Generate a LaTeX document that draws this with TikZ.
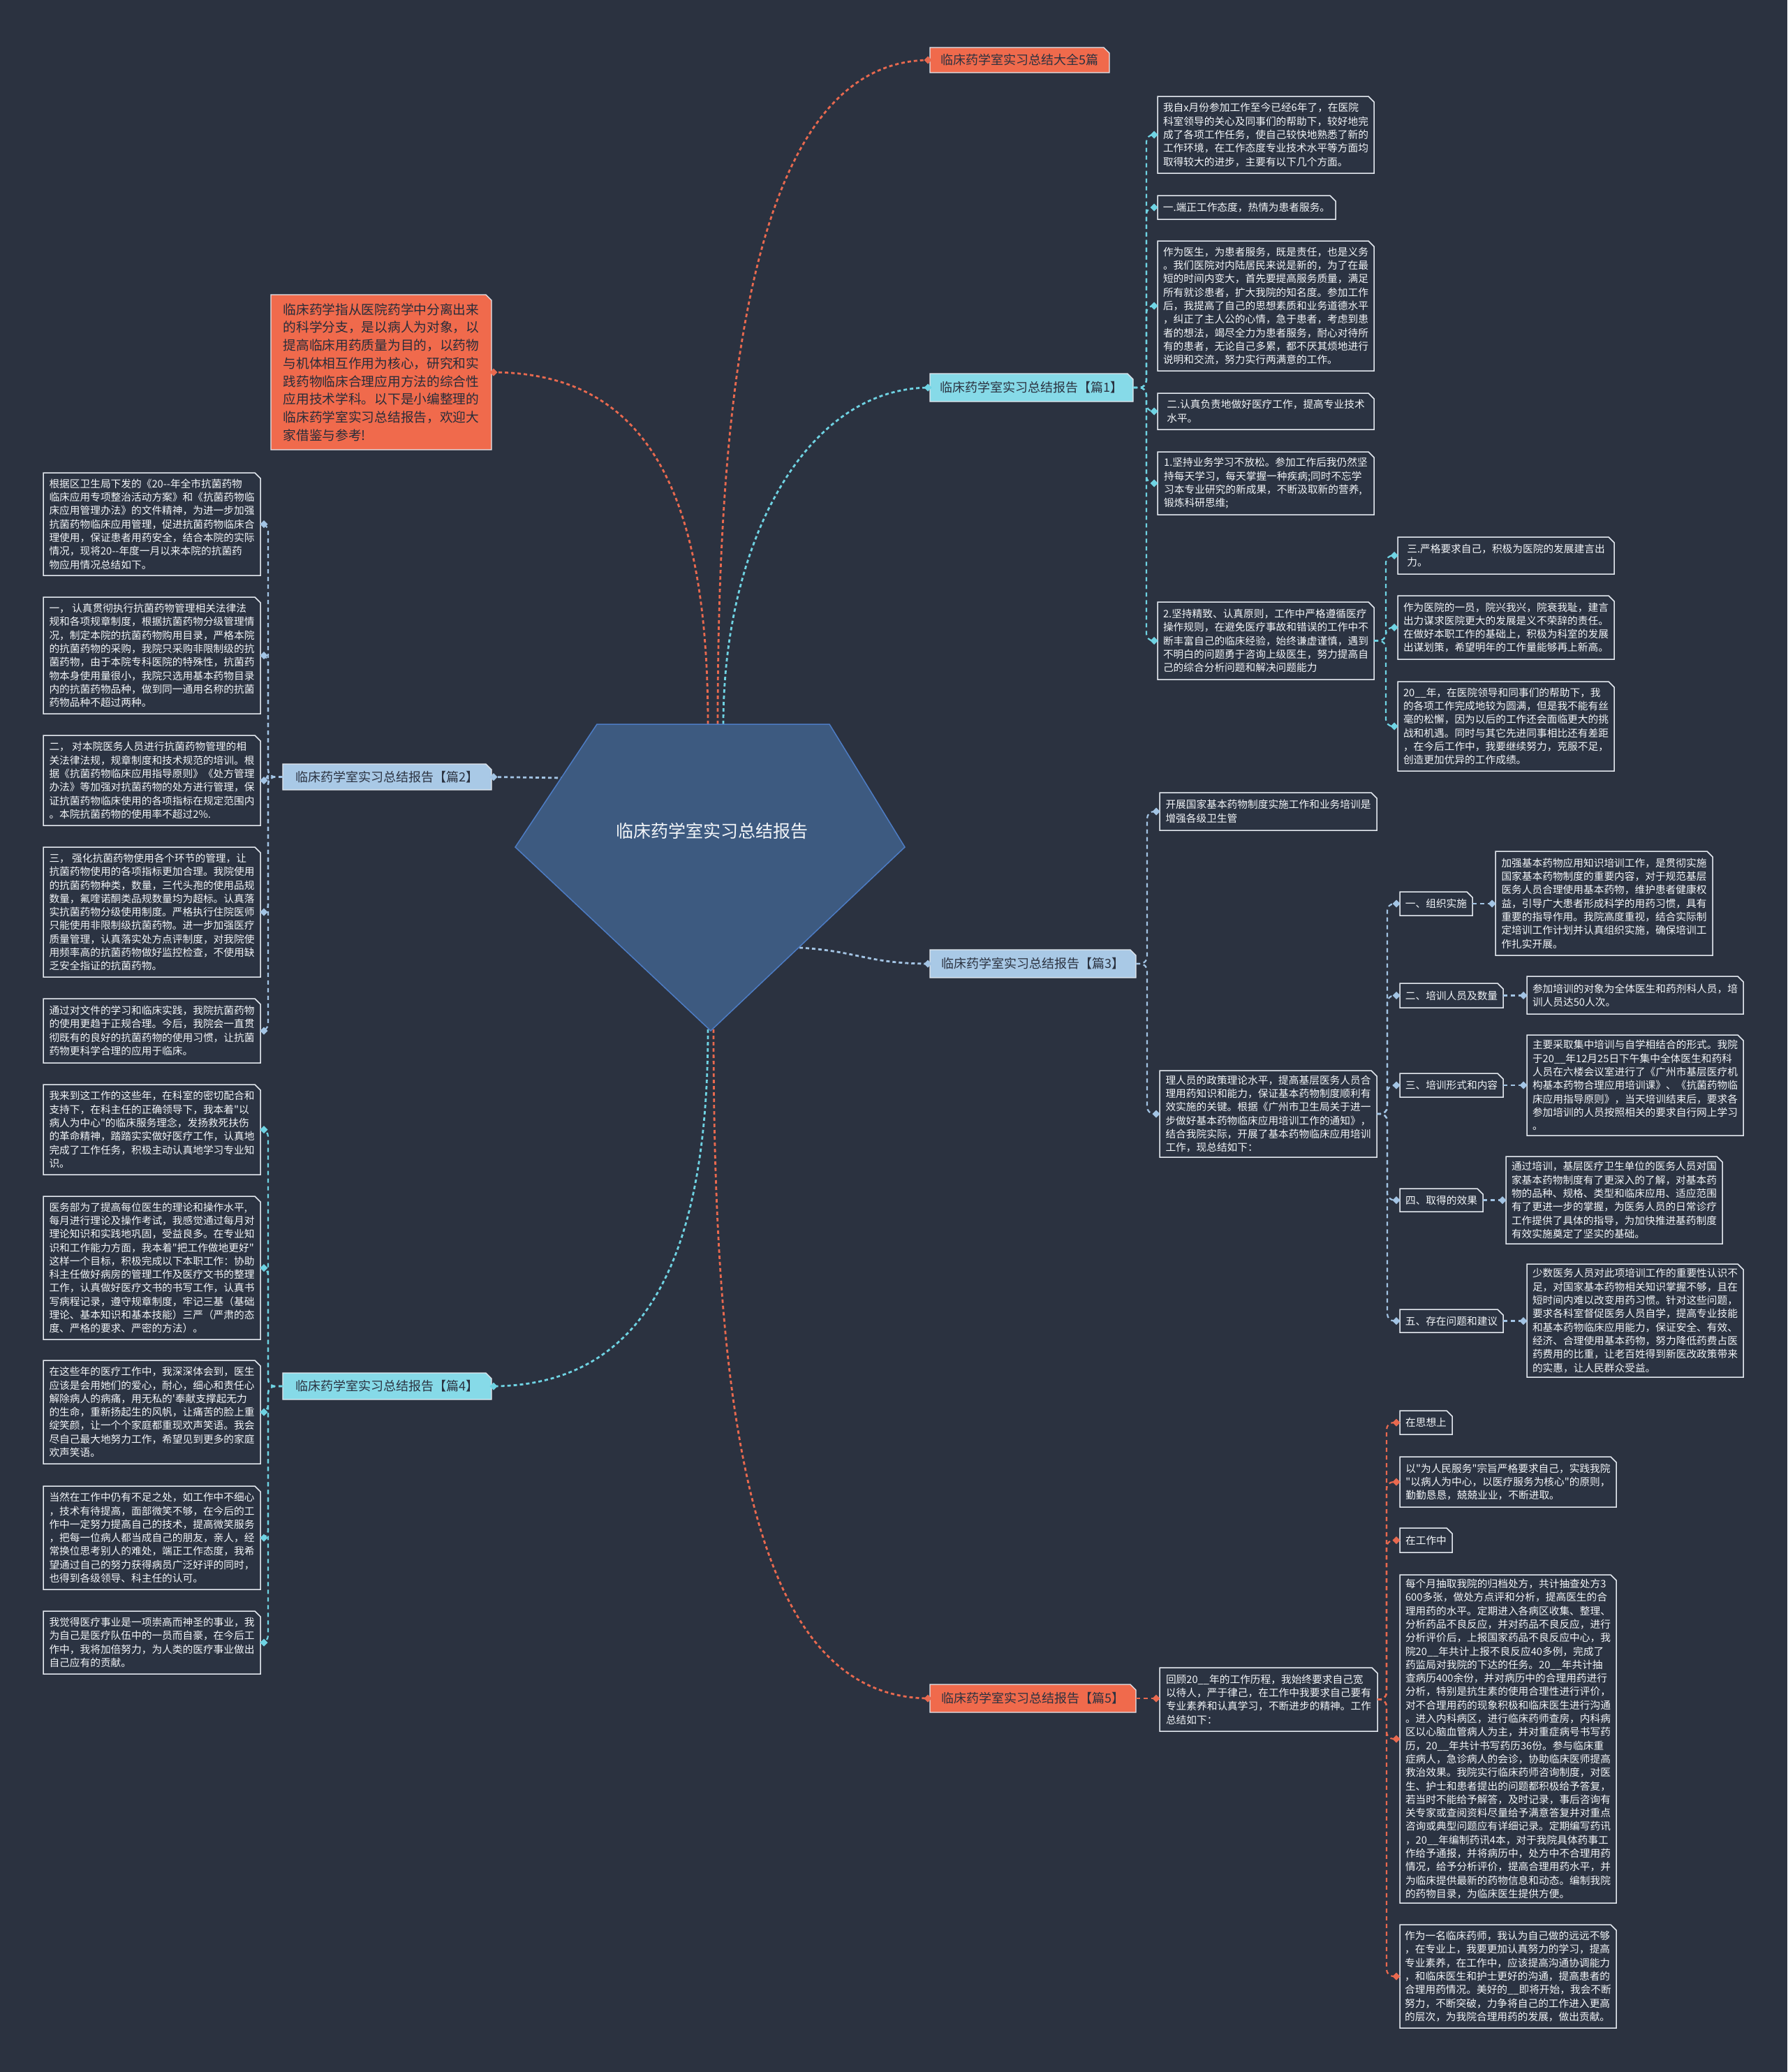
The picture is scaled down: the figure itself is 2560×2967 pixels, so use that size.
\documentclass[tikz,border=0pt]{standalone}
\usepackage{fontspec}
\newfontfamily\cjk{Noto Sans CJK SC}
\usetikzlibrary{calc,backgrounds}
\definecolor{bg}{HTML}{2B3240}
\definecolor{boxfill}{HTML}{2B3342}
\definecolor{boxline}{HTML}{E3E8EF}
\definecolor{txt}{HTML}{F2F5F8}
\definecolor{dark}{HTML}{2B3240}
\definecolor{redc}{HTML}{E8694F}
\definecolor{cyanc}{HTML}{6FD3E3}
\definecolor{bluec}{HTML}{A3C4E4}
\definecolor{redfill}{HTML}{F06A4C}
\definecolor{cyanfill}{HTML}{86DAE8}
\definecolor{bluefill}{HTML}{A9C9E6}
\definecolor{pent}{HTML}{3D5A80}
\definecolor{pentline}{HTML}{4D7CC4}
\newcommand\mybox[7]{\node[#1, minimum width={(#4-#2)*1pt}, minimum height={(#5-#3)*1pt}] (#6) at (#2,#3) {#7};}
\newcommand\mydia[2]{\fill[#1] ($#2+(-5.5,0)$) -- ++(5.5pt,5.5pt) -- ++(5.5pt,-5.5pt) -- ++(-5.5pt,-5.5pt) -- cycle;}
\newcommand\myconR[4]{\draw[subc,#1,rounded corners=10pt] (#2.east) -| ($(#3.west)+(-#4,0)$) -- (#3.west); \mydia{#1}{(#3.west)+(-5,0)}}
\newcommand\myconL[4]{\draw[subc,#1,rounded corners=10pt] (#2.west) -| ($(#3.east)+(#4,0)$) -- (#3.east); \mydia{#1}{(#3.east)+(5,0)}}
\newcommand\myconS[3]{\draw[subc,#1] (#2.east) -- (#2.east -| #3.west); \mydia{#1}{(#2.east -| #3.west)+(-5,0)}}
\begin{document}
\begin{tikzpicture}[x=1pt,y=-1pt,
  tbox/.style={rectangle, inner sep=0pt, outer sep=0pt, align=left, anchor=north west, text=txt, font=\cjk\fontsize{14.7}{19.3}\selectfont},
  lbl/.style={rectangle, inner sep=0pt, outer sep=0pt, anchor=north west, text=dark, font=\cjk\fontsize{18}{22}\selectfont},
  introbox/.style={rectangle, inner sep=0pt, outer sep=0pt, align=left, anchor=north west, text=dark!90!black, font=\cjk\fontsize{18.7}{25.7}\selectfont},
  mainc/.style={line width=2.8pt, dash pattern=on 5pt off 4pt},
  subc/.style={line width=2.2pt, dash pattern=on 6pt off 5pt},
  chamf/.style={line width=1.5pt, draw=boxline}
]
\useasboundingbox (0,0) rectangle (2560,2967);

% ---------- labels ----------
\mybox{lbl}{1332}{68}{1589}{104}{top}{临床药学室实习总结大全5篇}
\mybox{lbl}{1332}{535}{1623}{575}{p1}{临床药学室实习总结报告【篇1】}
\mybox{introbox}{388}{422}{704}{644}{intro}{临床药学指从医院药学中分离出来\\的科学分支，是以病人为对象，以\\提高临床用药质量为目的，以药物\\与机体相互作用为核心，研究和实\\践药物临床合理应用方法的综合性\\应用技术学科。以下是小编整理的\\临床药学室实习总结报告，欢迎大\\家借鉴与参考!}
\mybox{lbl}{405}{1094}{704}{1131}{p2}{临床药学室实习总结报告【篇2】}
\mybox{lbl}{1332}{1360}{1627}{1400}{p3}{临床药学室实习总结报告【篇3】}
\mybox{lbl}{405}{1966}{704}{2004}{p4}{临床药学室实习总结报告【篇4】}
\mybox{lbl}{1332}{2412}{1627}{2452}{p5}{临床药学室实习总结报告【篇5】}

% ---------- part 1 ----------
\mybox{tbox}{1658}{138}{1968}{248}{A}{我自x月份参加工作至今已经6年了，在医院\\科室领导的关心及同事们的帮助下，较好地完\\成了各项工作任务，使自己较快地熟悉了新的\\工作环境，在工作态度专业技术水平等方面均\\取得较大的进步，主要有以下几个方面。}
\mybox{tbox}{1658}{280}{1913}{314}{B}{一.端正工作态度，热情为患者服务。}
\mybox{tbox}{1658}{345}{1968}{531}{C}{作为医生，为患者服务，既是责任，也是义务\\。我们医院对内陆居民来说是新的，为了在最\\短的时间内变大，首先要提高服务质量，满足\\所有就诊患者，扩大我院的知名度。参加工作\\后，我提高了自己的思想素质和业务道德水平\\，纠正了主人公的心情，急于患者，考虑到患\\者的想法，竭尽全力为患者服务，耐心对待所\\有的患者，无论自己多累，都不厌其烦地进行\\说明和交流，努力实行两满意的工作。}
\mybox{tbox}{1658}{563}{1968}{615}{D}{二.认真负责地做好医疗工作，提高专业技术\\水平。}
\mybox{tbox}{1658}{647}{1968}{737}{E}{1.坚持业务学习不放松。参加工作后我仍然坚\\持每天学习，每天掌握一种疾病;同时不忘学\\习本专业研究的新成果，不断汲取新的营养,\\锻炼科研思维;}
\mybox{tbox}{1658}{862}{1968}{973}{F}{2.坚持精致、认真原则，工作中严格遵循医疗\\操作规则，在避免医疗事故和错误的工作中不\\断丰富自己的临床经验，始终谦虚谨慎，遇到\\不明白的问题勇于咨询上级医生，努力提高自\\己的综合分析问题和解决问题能力}
\mybox{tbox}{2002}{769}{2312}{822}{G}{三.严格要求自己，积极为医院的发展建言出\\力。}
\mybox{tbox}{2002}{853}{2312}{944}{H}{作为医院的一员，院兴我兴，院衰我耻，建言\\出力谋求医院更大的发展是义不荣辞的责任。\\在做好本职工作的基础上，积极为科室的发展\\出谋划策，希望明年的工作量能够再上新高。}
\mybox{tbox}{2002}{976}{2312}{1104}{I}{20\_\_年，在医院领导和同事们的帮助下，我\\的各项工作完成地较为圆满，但是我不能有丝\\毫的松懈，因为以后的工作还会面临更大的挑\\战和机遇。同时与其它先进同事相比还有差距\\，在今后工作中，我要继续努力，克服不足，\\创造更加优异的工作成绩。}

% ---------- part 2 ----------
\mybox{tbox}{62}{677}{373}{824}{L1}{根据区卫生局下发的《20--年全市抗菌药物\\临床应用专项整治活动方案》和《抗菌药物临\\床应用管理办法》的文件精神，为进一步加强\\抗菌药物临床应用管理，促进抗菌药物临床合\\理使用，保证患者用药安全，结合本院的实际\\情况，现将20--年度一月以来本院的抗菌药\\物应用情况总结如下。}
\mybox{tbox}{62}{855}{373}{1022}{L2}{一， 认真贯彻执行抗菌药物管理相关法律法\\规和各项规章制度，根据抗菌药物分级管理情\\况，制定本院的抗菌药物购用目录，严格本院\\的抗菌药物的采购，我院只采购非限制级的抗\\菌药物，由于本院专科医院的特殊性，抗菌药\\物本身使用量很小，我院只选用基本药物目录\\内的抗菌药物品种，做到同一通用名称的抗菌\\药物品种不超过两种。}
\mybox{tbox}{62}{1053}{373}{1182}{L3}{二， 对本院医务人员进行抗菌药物管理的相\\关法律法规，规章制度和技术规范的培训。根\\据《抗菌药物临床应用指导原则》《处方管理\\办法》等加强对抗菌药物的处方进行管理，保\\证抗菌药物临床使用的各项指标在规定范围内\\。本院抗菌药物的使用率不超过2\%.}
\mybox{tbox}{62}{1213}{373}{1399}{L4}{三， 强化抗菌药物使用各个环节的管理，让\\抗菌药物使用的各项指标更加合理。我院使用\\的抗菌药物种类，数量，三代头孢的使用品规\\数量，氟喹诺酮类品规数量均为超标。认真落\\实抗菌药物分级使用制度。严格执行住院医师\\只能使用非限制级抗菌药物。进一步加强医疗\\质量管理，认真落实处方点评制度，对我院使\\用频率高的抗菌药物做好监控检查，不使用缺\\乏安全指证的抗菌药物。}
\mybox{tbox}{62}{1430}{373}{1522}{L5}{通过对文件的学习和临床实践，我院抗菌药物\\的使用更趋于正规合理。今后，我院会一直贯\\彻既有的良好的抗菌药物的使用习惯，让抗菌\\药物更科学合理的应用于临床。}

% ---------- part 4 ----------
\mybox{tbox}{62}{1553}{373}{1682}{M1}{我来到这工作的这些年，在科室的密切配合和\\支持下，在科主任的正确领导下，我本着"以\\病人为中心"的临床服务理念，发扬救死扶伤\\的革命精神，踏踏实实做好医疗工作，认真地\\完成了工作任务，积极主动认真地学习专业知\\识。}
\mybox{tbox}{62}{1713}{373}{1918}{M2}{医务部为了提高每位医生的理论和操作水平,\\每月进行理论及操作考试，我感觉通过每月对\\理论知识和实践地巩固，受益良多。在专业知\\识和工作能力方面，我本着"把工作做地更好"\\这样一个目标，积极完成以下本职工作：协助\\科主任做好病房的管理工作及医疗文书的整理\\工作，认真做好医疗文书的书写工作，认真书\\写病程记录，遵守规章制度，牢记三基（基础\\理论、基本知识和基本技能）三严（严肃的态\\度、严格的要求、严密的方法）。}
\mybox{tbox}{62}{1948}{373}{2096}{M3}{在这些年的医疗工作中，我深深体会到，医生\\应该是会用她们的爱心，耐心，细心和责任心\\解除病人的病痛，用无私的'奉献支撑起无力\\的生命，重新扬起生的风帆，让痛苦的脸上重\\绽笑颜，让一个个家庭都重现欢声笑语。我会\\尽自己最大地努力工作，希望见到更多的家庭\\欢声笑语。}
\mybox{tbox}{62}{2128}{373}{2276}{M4}{当然在工作中仍有不足之处，如工作中不细心\\，技术有待提高，面部微笑不够，在今后的工\\作中一定努力提高自己的技术，提高微笑服务\\，把每一位病人都当成自己的朋友，亲人，经\\常换位思考别人的难处，端正工作态度，我希\\望通过自己的努力获得病员广泛好评的同时，\\也得到各级领导、科主任的认可。}
\mybox{tbox}{62}{2307}{373}{2397}{M5}{我觉得医疗事业是一项崇高而神圣的事业，我\\为自己是医疗队伍中的一员而自豪，在今后工\\作中，我将加倍努力，为人类的医疗事业做出\\自己应有的贡献。}

% ---------- part 3 ----------
\mybox{tbox}{1661}{1135}{1972}{1189}{N1}{开展国家基本药物制度实施工作和业务培训是\\增强各级卫生管}
\mybox{tbox}{1661}{1533}{1972}{1657}{N2}{理人员的政策理论水平，提高基层医务人员合\\理用药知识和能力，保证基本药物制度顺利有\\效实施的关键。根据《广州市卫生局关于进一\\步做好基本药物临床应用培训工作的通知》，\\结合我院实际，开展了基本药物临床应用培训\\工作，现总结如下：}
\mybox{tbox}{2005}{1277}{2109}{1311}{S1}{一、组织实施}
\mybox{tbox}{2142}{1219}{2453}{1368}{O1}{加强基本药物应用知识培训工作，是贯彻实施\\国家基本药物制度的重要内容，对于规范基层\\医务人员合理使用基本药物，维护患者健康权\\益，引导广大患者形成科学的用药习惯，具有\\重要的指导作用。我院高度重视，结合实际制\\定培训工作计划并认真组织实施，确保培训工\\作扎实开展。}
\mybox{tbox}{2005}{1408}{2153}{1443}{S2}{二、培训人员及数量}
\mybox{tbox}{2187}{1398}{2497}{1452}{O2}{参加培训的对象为全体医生和药剂科人员，培\\训人员达50人次。}
\mybox{tbox}{2005}{1537}{2153}{1571}{S3}{三、培训形式和内容}
\mybox{tbox}{2187}{1482}{2497}{1626}{O3}{主要采取集中培训与自学相结合的形式。我院\\于20\_\_年12月25日下午集中全体医生和药科\\人员在六楼会议室进行了《广州市基层医疗机\\构基本药物合理应用培训课》、《抗菌药物临\\床应用指导原则》，当天培训结束后，要求各\\参加培训的人员按照相关的要求自行网上学习\\。}
\mybox{tbox}{2005}{1702}{2124}{1735}{S4}{四、取得的效果}
\mybox{tbox}{2157}{1656}{2467}{1781}{O4}{通过培训，基层医疗卫生单位的医务人员对国\\家基本药物制度有了更深入的了解，对基本药\\物的品种、规格、类型和临床应用、适应范围\\有了更进一步的掌握，为医务人员的日常诊疗\\工作提供了具体的指导，为加快推进基药制度\\有效实施奠定了坚实的基础。}
\mybox{tbox}{2005}{1875}{2153}{1908}{S5}{五、存在问题和建议}
\mybox{tbox}{2187}{1810}{2497}{1972}{O5}{少数医务人员对此项培训工作的重要性认识不\\足，对国家基本药物相关知识掌握不够，且在\\短时间内难以改变用药习惯。针对这些问题，\\要求各科室督促医务人员自学，提高专业技能\\和基本药物临床应用能力，保证安全、有效、\\经济、合理使用基本药物，努力降低药费占医\\药费用的比重，让老百姓得到新医改政策带来\\的实惠，让人民群众受益。}

% ---------- part 5 ----------
\mybox{tbox}{1661}{2388}{1973}{2479}{P1}{回顾20\_\_年的工作历程，我始终要求自己宽\\以待人，严于律己，在工作中我要求自己要有\\专业素养和认真学习，不断进步的精神。工作\\总结如下：}
\mybox{tbox}{2005}{2020}{2080}{2054}{T1}{在思想上}
\mybox{tbox}{2005}{2086}{2315}{2158}{Q1}{以"为人民服务"宗旨严格要求自己，实践我院\\"以病人为中心，以医疗服务为核心"的原则，\\勤勤恳恳，兢兢业业，不断进取。}
\mybox{tbox}{2005}{2188}{2080}{2223}{T2}{在工作中}
\mybox{tbox}{2005}{2255}{2315}{2725}{Q2}{每个月抽取我院的归档处方，共计抽查处方3\\600多张，做处方点评和分析，提高医生的合\\理用药的水平。定期进入各病区收集、整理、\\分析药品不良反应，并对药品不良反应，进行\\分析评价后，上报国家药品不良反应中心，我\\院20\_\_年共计上报不良反应40多例，完成了\\药监局对我院的下达的任务。20\_\_年共计抽\\查病历400余份，并对病历中的合理用药进行\\分析，特别是抗生素的使用合理性进行评价，\\对不合理用药的现象积极和临床医生进行沟通\\。进入内科病区，进行临床药师查房，内科病\\区以心脑血管病人为主，并对重症病号书写药\\历，20\_\_年共计书写药历36份。参与临床重\\症病人，急诊病人的会诊，协助临床医师提高\\救治效果。我院实行临床药师咨询制度，对医\\生、护士和患者提出的问题都积极给予答复，\\若当时不能给予解答，及时记录，事后咨询有\\关专家或查阅资料尽量给予满意答复并对重点\\咨询或典型问题应有详细记录。定期编写药讯\\，20\_\_年编制药讯4本，对于我院具体药事工\\作给予通报，并将病历中，处方中不合理用药\\情况，给予分析评价，提高合理用药水平，并\\为临床提供最新的药物信息和动态。编制我院\\的药物目录，为临床医生提供方便。}
\mybox{tbox}{2005}{2756}{2315}{2904}{Q3}{作为一名临床药师，我认为自己做的远远不够\\，在专业上，我要更加认真努力的学习，提高\\专业素养，在工作中，应该提高沟通协调能力\\，和临床医生和护士更好的沟通，提高患者的\\合理用药情况。美好的\_\_即将开始，我会不断\\努力，不断突破，力争将自己的工作进入更高\\的层次，为我院合理用药的发展，做出贡献。}

% ---------- centre connectors ----------
\coordinate (oTop) at (1028,1037);
\coordinate (oP1) at (1036,1037);
\coordinate (oIn) at (1014,1037);
\coordinate (oP2) at (808,1114);
\coordinate (oP3) at (1145,1357);
\coordinate (oP4) at (1014,1474);
\coordinate (oP5) at (1022,1474);
\draw[mainc,redc] (oTop) .. controls (1028,537) and ($(top.west)+(-250,0)$) .. (top.west);
\draw[mainc,cyanc] (oP1) .. controls (1036,780) and ($(p1.west)+(-180,0)$) .. (p1.west);
\draw[mainc,redc] (oIn) .. controls (1014,700) and ($(intro.east)+(220,0)$) .. (intro.east);
\draw[mainc,bluec] (oP2) -- (p2.east);
\draw[mainc,bluec] (oP3) .. controls (1230,1362) and ($(p3.west)+(-90,0)$) .. (p3.west);
\draw[mainc,cyanc] (oP4) .. controls (1014,1800) and ($(p4.east)+(220,0)$) .. (p4.east);
\draw[mainc,redc] (oP5) .. controls (1022,2050) and ($(p5.west)+(-250,0)$) .. (p5.west);
\mydia{redc}{(top.west)+(-3,0)}
\mydia{cyanc}{(p1.west)+(-3,0)}
\mydia{redc}{(intro.east)+(3,0)}
\mydia{bluec}{(p2.east)+(3,0)}
\mydia{bluec}{(p3.west)+(-3,0)}
\mydia{cyanc}{(p4.east)+(3,0)}
\mydia{redc}{(p5.west)+(-3,0)}

% ---------- centre pentagon ----------
\filldraw[fill=pent, draw=pentline, line width=1.5pt] (855,1037) -- (1188,1037) -- (1296,1213) -- (1018,1476) -- (738,1213) -- cycle;
\node[text=txt, font=\cjk\fontsize{25}{30}\selectfont] (centre) at (1020,1190) {临床药学室实习总结报告};

% ---------- child connectors ----------
\foreach \c in {A,B,C,D,E,F} {\myconR{cyanc}{p1}{\c}{16}}
\foreach \c in {G,H,I} {\myconR{cyanc}{F}{\c}{17}}
\foreach \c in {L1,L2,L3,L4,L5} {\myconL{bluec}{p2}{\c}{11}}
\foreach \c in {M1,M2,M3,M4,M5} {\myconL{cyanc}{p4}{\c}{11}}
\foreach \c in {N1,N2} {\myconR{bluec}{p3}{\c}{18}}
\foreach \c in {S1,S2,S3,S4,S5} {\myconR{bluec}{N2}{\c}{18}}
\myconS{bluec}{S1}{O1}
\myconS{bluec}{S2}{O2}
\myconS{bluec}{S3}{O3}
\myconS{bluec}{S4}{O4}
\myconS{bluec}{S5}{O5}
\myconS{redc}{p5}{P1}
\foreach \c in {T1,Q1,T2,Q2,Q3} {\myconR{redc}{P1}{\c}{19}}

% ---------- box shapes (background) ----------
\begin{scope}[on background layer]
\fill[bg] (0,0) rectangle (2560,2967);
\foreach \n in {A,B,C,D,E,F,G,H,I,L1,L2,L3,L4,L5,M1,M2,M3,M4,M5,N1,N2,S1,S2,S3,S4,S5,O1,O2,O3,O4,O5,P1,T1,Q1,T2,Q2,Q3} {
  \path[chamf, fill=boxfill] (\n.south west) -- (\n.north west) -- ([xshift=-8pt]\n.north east) -- ([yshift=-8pt]\n.north east) -- (\n.south east) -- cycle;
}
\foreach \n/\f in {top/redfill,intro/redfill,p5/redfill,p1/cyanfill,p4/cyanfill,p2/bluefill,p3/bluefill} {
  \path[line width=1.2pt, draw=boxline, fill=\f] (\n.south west) -- (\n.north west) -- ([xshift=-8pt]\n.north east) -- ([yshift=-8pt]\n.north east) -- (\n.south east) -- cycle;
}
\end{scope}
\end{tikzpicture}
\end{document}
